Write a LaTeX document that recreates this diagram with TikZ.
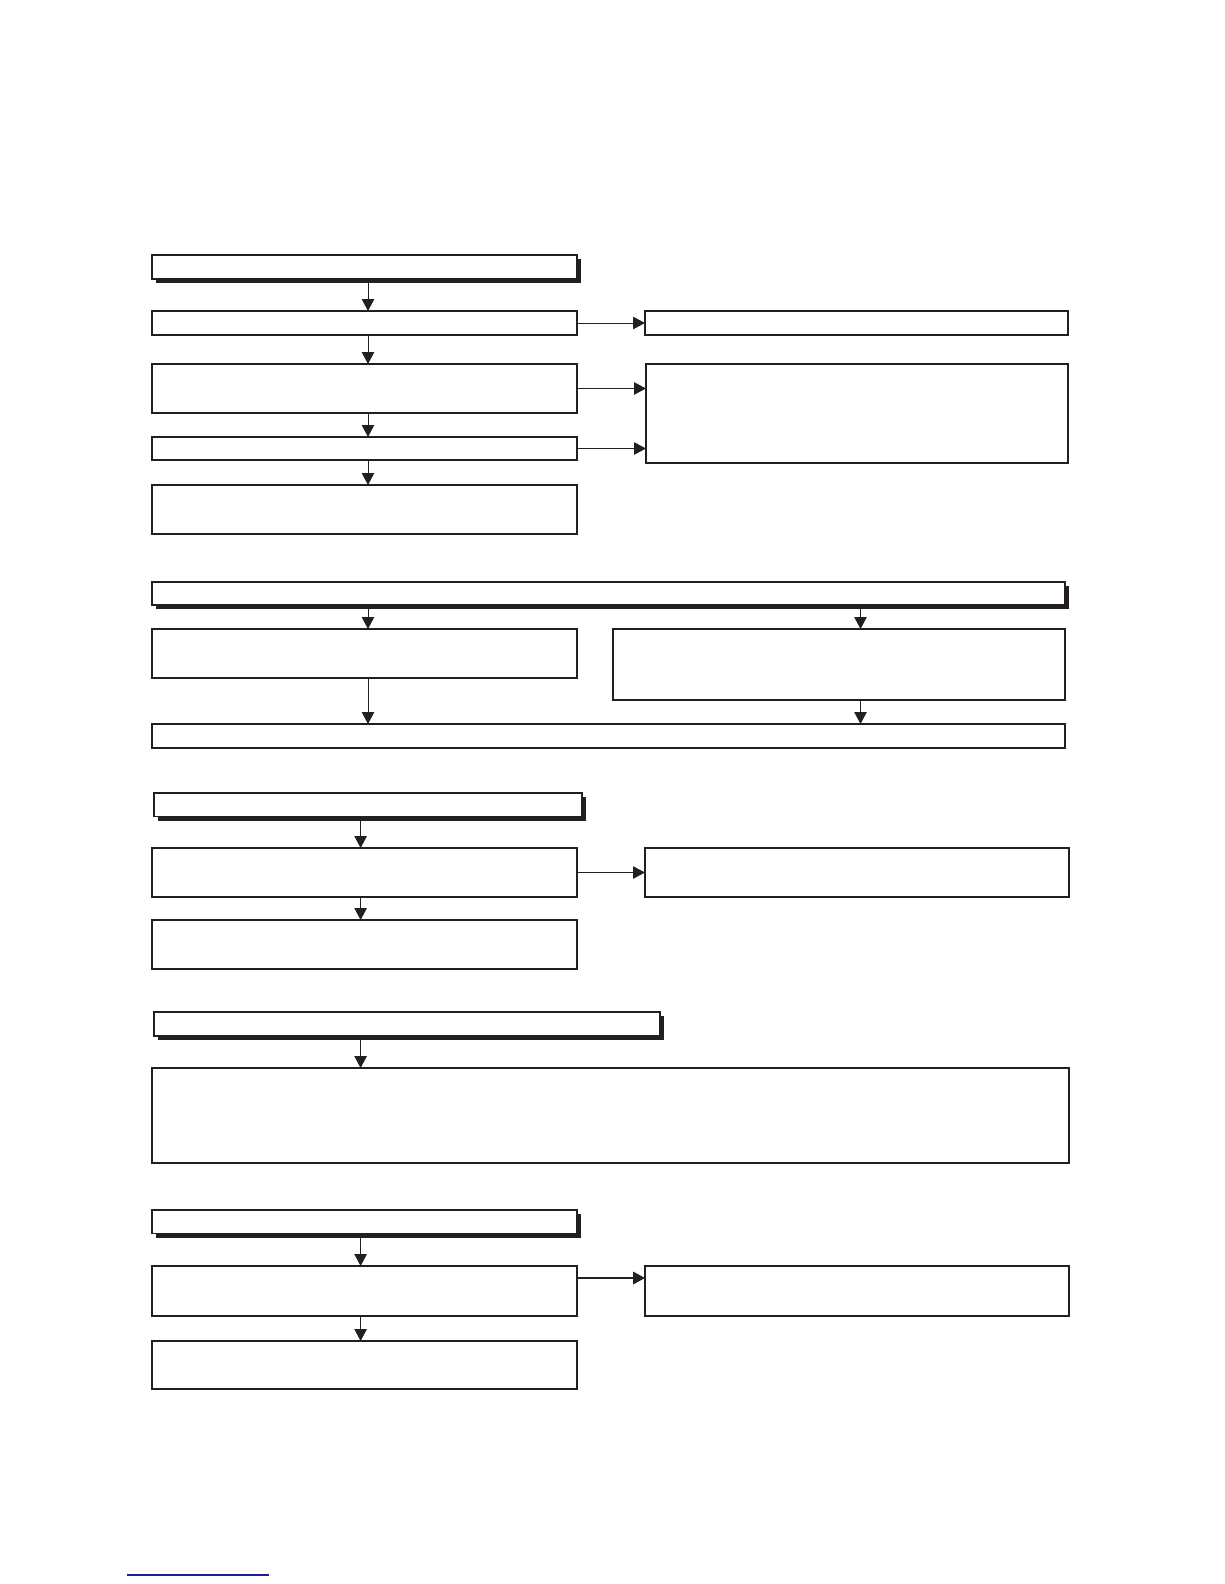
\documentclass[tikz,border=0pt]{standalone}
\usetikzlibrary{arrows.meta,shadows}
\definecolor{ink}{HTML}{231F20}
\definecolor{linkblue}{HTML}{1F1F8F}
\begin{document}
\begin{tikzpicture}[x=1pt,y=-1pt,
  box/.style={draw=ink,line width=1.1pt,fill=white,inner sep=0pt,outer sep=0pt,anchor=north west},
  hdr/.style={box,drop shadow={shadow xshift=4pt,shadow yshift=-4pt,fill=ink,opacity=1}},
  arr/.style={draw=ink,line width=1pt,-{Triangle[length=12pt,width=12.5pt]}},
  thickedge/.style={draw=ink,line width=2pt,line cap=rect}
]
\useasboundingbox (0,0) rectangle (1224,1584);
\coordinate (cA) at (368,0);
\coordinate (cB) at (860.5,0);
\coordinate (cC) at (360.6,0);

% ---- section 1
\node[hdr,minimum width=425pt,minimum height=24pt] (H1) at (152,255) {};
\node[box,minimum width=425pt,minimum height=24pt] (B1) at (152,311) {};
\node[box,minimum width=423pt,minimum height=24pt] (R1) at (645,311) {};
\node[box,minimum width=425pt,minimum height=49pt] (B2) at (152,364) {};
\node[box,minimum width=422pt,minimum height=99pt] (R2) at (646,364) {};
\node[box,minimum width=425pt,minimum height=23pt] (B3) at (152,437) {};
\node[box,minimum width=425pt,minimum height=49pt] (B4) at (152,485) {};

\draw[arr] (H1.south -| cA) -- (B1.north -| cA);
\draw[arr] (B1.south -| cA) -- (B2.north -| cA);
\draw[arr] (B2.south -| cA) -- (B3.north -| cA);
\draw[arr] (B3.south -| cA) -- (B4.north -| cA);
\draw[arr] (B1.east) -- (R1.west);
\draw[arr] (B2.east) -- (R2.west |- B2.east);
\draw[arr] (B3.east) -- (R2.west |- B3.east);
\draw[thickedge] (R2.north east) -- (R2.south east);

% ---- section 2
\node[hdr,minimum width=913pt,minimum height=23pt] (H2) at (152,582) {};
\node[box,minimum width=425pt,minimum height=49pt] (S2L) at (152,629) {};
\node[box,minimum width=452pt,minimum height=71pt] (S2R) at (613,629) {};
\node[box,minimum width=913pt,minimum height=24pt] (S2B) at (152,724) {};

\draw[arr] (H2.south -| cA) -- (S2L.north -| cA);
\draw[arr] (H2.south -| cB) -- (S2R.north -| cB);
\draw[arr] (S2L.south -| cA) -- (S2B.north -| cA);
\draw[arr] (S2R.south -| cB) -- (S2B.north -| cB);
\draw[thickedge] (S2B.north west) -- (S2B.north east);

% ---- section 3
\node[hdr,minimum width=428pt,minimum height=23.5pt] (H3) at (154,793) {};
\node[box,minimum width=425pt,minimum height=49pt] (S3A) at (152,848) {};
\node[box,minimum width=424pt,minimum height=49pt] (S3R) at (645,848) {};
\node[box,minimum width=425pt,minimum height=49pt] (S3B) at (152,920) {};

\draw[arr] (H3.south -| cC) -- (S3A.north -| cC);
\draw[arr] (S3A.south -| cC) -- (S3B.north -| cC);
\draw[arr] (S3A.east) -- (S3R.west);
\draw[thickedge] (S3R.south west) -- (S3R.south east);
\draw[thickedge] (S3A.south west) -- (S3A.south east);

% ---- section 4
\node[hdr,minimum width=506pt,minimum height=24pt] (H4) at (154,1012) {};
\node[box,minimum width=917pt,minimum height=95pt] (S4) at (152,1068) {};

\draw[arr] (H4.south -| cC) -- (S4.north -| cC);

% ---- section 5
\node[hdr,minimum width=425pt,minimum height=23.5pt] (H5) at (152,1210) {};
\node[box,minimum width=425pt,minimum height=50pt] (S5A) at (152,1266) {};
\node[box,minimum width=424pt,minimum height=50pt] (S5R) at (645,1266) {};
\node[box,minimum width=425pt,minimum height=48pt] (S5B) at (152,1341) {};
\coordinate (y5) at (0,1278);

\draw[arr] (H5.south -| cC) -- (S5A.north -| cC);
\draw[arr] (S5A.south -| cC) -- (S5B.north -| cC);
\draw[arr,line width=2pt] (S5A.east |- y5) -- (S5R.west |- y5);
\draw[thickedge] (S5R.south west) -- (S5R.south east);

% ---- underline at foot
\coordinate (u1) at (127,1575);
\coordinate (u2) at (269,1575);
\draw[linkblue,line width=1.3pt] (u1) -- (u2);
\end{tikzpicture}
\end{document}
